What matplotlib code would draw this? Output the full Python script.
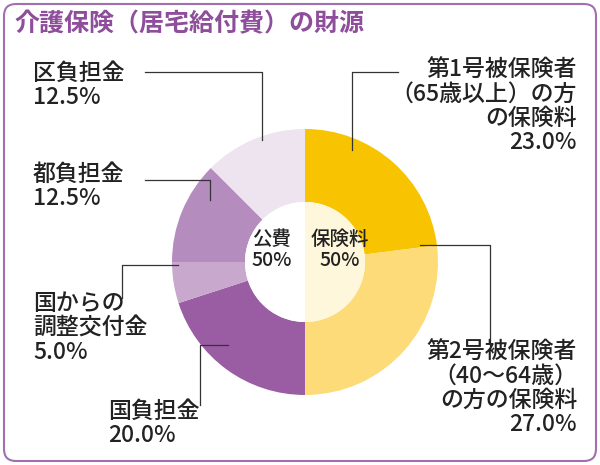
import matplotlib
matplotlib.use("Agg")
import matplotlib.pyplot as plt
from matplotlib.patches import FancyBboxPatch, Wedge

plt.rcParams['font.family'] = 'Noto Sans CJK JP'

labels = ["第1号被保険者\n（65歳以上）の方\nの保険料\n23.0%",
          "第2号被保険者\n（40～64歳）\nの方の保険料\n27.0%",
          "国負担金\n20.0%", "国からの\n調整交付金\n5.0%",
          "都負担金\n12.5%", "区負担金\n12.5%"]
values = [23.0, 27.0, 20.0, 5.0, 12.5, 12.5]
colors = ["#F8C300", "#FDDB78", "#9A5DA4", "#C9A8CE", "#B48DBE", "#EDE4F0"]

H = 465
fig = plt.figure(figsize=(6, 4.65), dpi=100)
ax = fig.add_axes([0, 0, 1, 1])

ax.pie(values, colors=colors, center=(305, H-262), radius=133, startangle=90,
       counterclock=False, wedgeprops=dict(width=73, lw=0), frame=True)
ax.set_xlim(0, 600); ax.set_ylim(0, H); ax.axis('off')
ax.set_aspect('auto')
cx, cy = 305, H-262
ax.add_patch(FancyBboxPatch((4, 4), 592, 457, boxstyle="round,pad=0,rounding_size=12",
                            fc="none", ec="#A170AE", lw=1.5))
ax.text(14, H-24, "介護保険（居宅給付費）の財源", fontsize=18, color="#8E4E9B",
        va='center', weight='bold')

ax.add_patch(Wedge((cx, cy), 60, -90, 90, fc="#FFF7DC", lw=0))
ax.add_patch(Wedge((cx, cy), 60, 90, 270, fc="white", lw=0))
tc = "#222222"
ax.text(272, H-250, "公費\n50%", fontsize=14, ha='center', va='center', linespacing=1.1,
        color=tc, weight='medium')
ax.text(340, H-250, "保険料\n50%", fontsize=14, ha='center', va='center', linespacing=1.1,
        color=tc, weight='medium')

fs = 16.5
kw = dict(fontsize=fs, va='top', linespacing=1.08, color=tc, weight='medium')
ax.text(577, H-58, labels[0], ha='right', **kw)
ax.text(577, H-340, labels[1], ha='right', **kw)
ax.text(108, H-400, labels[2], ha='left', **kw)
ax.text(33, H-292, labels[3], ha='left', **kw)
ax.text(33, H-163, labels[4], ha='left', **kw)
ax.text(33, H-62, labels[5], ha='left', **kw)

lk = dict(color="#333333", lw=0.9)
def line(xs, ys):
    ax.plot(xs, [H-y for y in ys], **lk)
line([398, 352, 352], [72, 72, 150])
line([420, 490, 490], [245, 245, 348])
line([200, 200, 228], [405, 345, 345])
line([122, 122, 178], [298, 265, 265])
line([145, 210, 210], [180, 180, 200])
line([145, 262, 262], [72, 72, 140])

fig.savefig("out.png", dpi=100)
